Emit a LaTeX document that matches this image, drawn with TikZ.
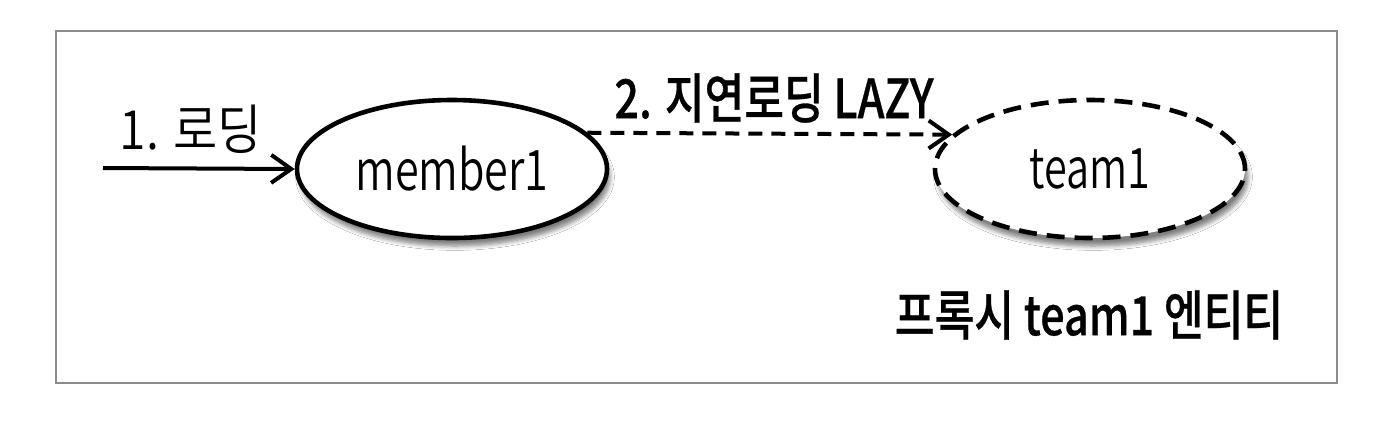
\documentclass[tikz,border=0pt]{standalone}
\usepackage{fontspec}
\setmainfont{Noto Sans CJK KR DemiLight}
\newfontfamily\medfont[FakeBold=0.6]{Noto Sans CJK KR Medium}
\usetikzlibrary{shapes.geometric,arrows.meta,shadows.blur}
\begin{document}
\begin{tikzpicture}[x=0.5pt,y=-0.5pt,
  ent/.style={ellipse,draw=black,line width=2.3pt,fill=white,inner sep=0pt,
    minimum width=155pt,minimum height=69pt,font=\fontsize{28}{30}\selectfont,
    blur shadow={shadow xshift=1.5pt,shadow yshift=-4pt,shadow blur steps=6,shadow opacity=50}},
  proxy/.style={ent,dash pattern=on 9pt off 5pt},
  conn/.style={line width=2pt,-{Straight Barb[length=10pt,width=14pt,line width=2pt]}},
  lbl/.style={font=\fontsize{27}{30}\selectfont,inner sep=0pt},
  blbl/.style={font=\fontsize{27}{30}\medfont\selectfont,inner sep=0pt}]
\useasboundingbox (0,0) rectangle (1376,420);
\fill[white] (0,0) rectangle (1376,420);
\draw[draw=black!45,line width=0.8pt] (56,31) rectangle (1337,383);
\node[ent] (member1) at (452,169) {\scalebox{0.77}[1]{member1}};
\node[proxy] (team1) at (1090,169) {\scalebox{0.74}[1]{team1}};
\coordinate (start) at (103,168);
\draw[conn] (start) -- (member1.west);
\node[lbl] (l1) at (191,129) {\scalebox{0.89}[1]{1. 로딩}};
\draw[conn,dash pattern=on 7pt off 4.5pt] (member1.15) -- (team1.166);
\node[blbl] (l2) at (774,98) {\scalebox{0.8}[1]{2. 지연로딩 LAZY}};
\node[blbl] (l3) at (1089,315) {\scalebox{0.8}[1]{프록시 team1 엔티티}};
\end{tikzpicture}
\end{document}
